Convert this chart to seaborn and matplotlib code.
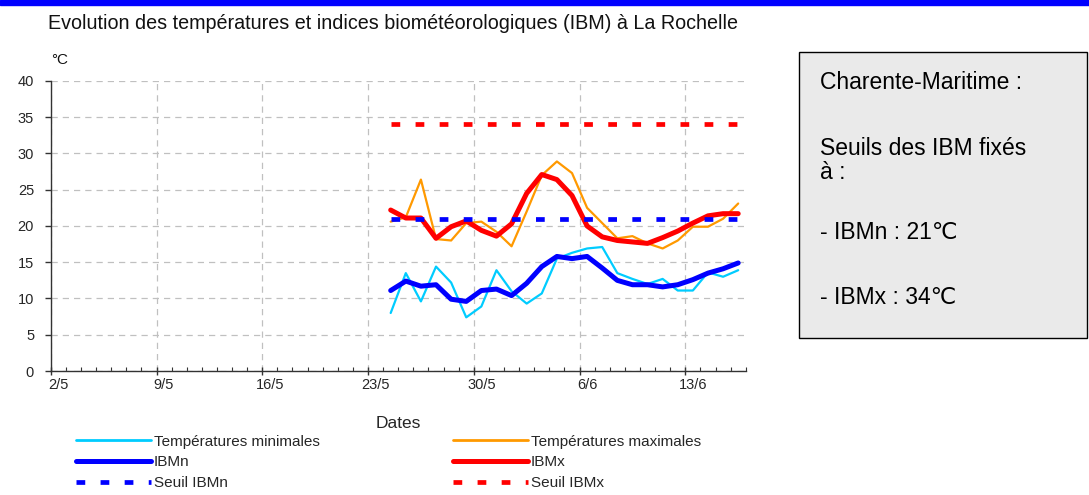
import numpy as np
import pandas as pd
import seaborn as sns
import matplotlib.pyplot as plt
import matplotlib.transforms as mtransforms
from matplotlib.lines import Line2D
from matplotlib.patches import Rectangle
from matplotlib.ticker import MultipleLocator, FixedLocator

# Days shown on the axis: 2/5 .. 16/6 (index 0 = 2/5)
AXIS_START = pd.Timestamp('2011-05-02')
N_DAYS = 46
week_labels = ['2/5', '9/5', '16/5', '23/5', '30/5', '6/6', '13/6']

dates = ['2011-05-24', '2011-05-25', '2011-05-26', '2011-05-27', '2011-05-28', '2011-05-29',
         '2011-05-30', '2011-05-31', '2011-06-01', '2011-06-02', '2011-06-03', '2011-06-04',
         '2011-06-05', '2011-06-06', '2011-06-07', '2011-06-08', '2011-06-09', '2011-06-10',
         '2011-06-11', '2011-06-12', '2011-06-13', '2011-06-14', '2011-06-15', '2011-06-16']
t_min = [8.0, 13.5, 9.6, 14.4, 12.2, 7.4, 8.9, 13.9, 11.0, 9.3, 10.7, 15.5,
         16.3, 16.9, 17.1, 13.5, 12.7, 12.0, 12.7, 11.1, 11.1, 13.6, 13.0, 13.9]
t_max = [20.6, 21.2, 26.4, 18.2, 18.0, 20.4, 20.6, 19.2, 17.2, 22.0, 27.0, 28.9,
         27.3, 22.5, 20.4, 18.3, 18.6, 17.6, 16.9, 18.0, 19.9, 19.9, 21.0, 23.1]
ibm_n = [11.1, 12.4, 11.7, 11.9, 9.9, 9.6, 11.1, 11.3, 10.4, 12.1, 14.4, 15.8,
         15.5, 15.8, 14.2, 12.5, 11.9, 11.9, 11.6, 11.9, 12.6, 13.5, 14.1, 14.9]
ibm_x = [22.2, 21.1, 21.1, 18.3, 19.9, 20.7, 19.4, 18.6, 20.3, 24.5, 27.1, 26.4,
         24.2, 20.0, 18.5, 18.0, 17.8, 17.6, 18.4, 19.3, 20.4, 21.4, 21.7, 21.7]
SEUIL_IBMN = 21
SEUIL_IBMX = 34

df = pd.DataFrame({'date': pd.to_datetime(dates), 'tmin': t_min, 'tmax': t_max,
                   'ibmn': ibm_n, 'ibmx': ibm_x})
df['day'] = (df['date'] - AXIS_START).dt.days
df['seuil_n'] = np.full(len(df), SEUIL_IBMN)
df['seuil_x'] = np.full(len(df), SEUIL_IBMX)

sns.set_theme(style='white')
plt.rcParams['font.family'] = ['Liberation Sans', 'DejaVu Sans']

fig = plt.figure(figsize=(10.89, 4.95), dpi=100)
ax = fig.add_axes([0.0466, 0.2505, 0.6382, 0.5859])

dash = (0, (1.85, 3.25))
series = [
    ('tmin', '#00CCFF', 1.6, '-', 'Températures minimales'),
    ('tmax', '#FF9900', 1.6, '-', 'Températures maximales'),
    ('ibmn', '#0000FF', 3.6, '-', 'IBMn'),
    ('ibmx', '#FF0000', 3.6, '-', 'IBMx'),
    ('seuil_n', '#0000FF', 3.4, dash, 'Seuil IBMn'),
    ('seuil_x', '#FF0000', 3.4, dash, 'Seuil IBMx'),
]
for col, color, lw, ls, lab in series:
    sns.lineplot(data=df, x='day', y=col, color=color, linewidth=lw, linestyle=ls, ax=ax)

ax.set_xlim(-0.5, N_DAYS - 0.5)
ax.set_ylim(0, 40)
ax.yaxis.set_major_locator(MultipleLocator(5))
ax.xaxis.set_major_locator(FixedLocator(np.arange(-0.5, N_DAYS, 7)))
ax.xaxis.set_minor_locator(FixedLocator(np.arange(-0.5, N_DAYS, 1)))
ax.set_xticklabels(week_labels, fontsize=10.5)
ax.tick_params(axis='y', labelsize=10.5, length=4, width=1, color='#333333', pad=8, left=True)
ax.tick_params(axis='x', which='major', direction='inout', length=6, width=1, color='#333333', pad=2, bottom=True)
ax.tick_params(axis='x', which='minor', direction='in', length=3, width=0.8, color='#333333', bottom=True)
# labels sit in the middle of the day slot
shift = mtransforms.ScaledTranslation(7.5 / 100, 0, fig.dpi_scale_trans)
for lbl in ax.get_xticklabels():
    lbl.set_transform(lbl.get_transform() + shift)

ax.grid(True, which='major', color='#C0C0C0', linestyle=(0, (5, 4)), linewidth=0.9)
for s in ['top', 'right']:
    ax.spines[s].set_visible(False)
for s in ['left', 'bottom']:
    ax.spines[s].set_color('#333333')
    ax.spines[s].set_linewidth(1)
ax.set_xlabel('Dates', fontsize=12.5, labelpad=17)
ax.set_ylabel('')

# top blue band, title and unit
fig.patches.append(Rectangle((0, 0.99), 1, 0.01, transform=fig.transFigure, color='#0000FF'))
fig.text(0.361, 0.953, 'Evolution des températures et indices biométéorologiques (IBM) à La Rochelle',
         ha='center', va='center', fontsize=14.2, color='#111111')
fig.text(0.047, 0.878, '°C', ha='left', va='center', fontsize=11, color='#111111')

# legend in two separate columns
handles = [Line2D([], [], color=c, lw=max(lw, 2.0), ls=ls) for _, c, lw, ls, _ in series]
labels = [s[4] for s in series]
leg_kw = dict(loc='upper left', frameon=False, handlelength=4.9, handletextpad=0.2,
              labelspacing=0.45, borderaxespad=0, borderpad=0, prop={'size': 11})
fig.legend([handles[0], handles[2], handles[4]], [labels[0], labels[2], labels[4]],
           bbox_to_anchor=(0.0698, 0.122), **leg_kw)
fig.legend([handles[1], handles[3], handles[5]], [labels[1], labels[3], labels[5]],
           bbox_to_anchor=(0.416, 0.122), **leg_kw)

# info box
fig.patches.append(Rectangle((0.7337, 0.317), 0.2645, 0.578, transform=fig.transFigure,
                             facecolor='#EAEAEA', edgecolor='#000000', linewidth=1))
box_lines = [('Charente-Maritime :', 0.834), ('Seuils des IBM fixés', 0.701), ('à :', 0.6525),
             ('- IBMn : 21℃', 0.531), ('- IBMx : 34℃', 0.400)]
for txt, y in box_lines:
    fig.text(0.753, y, txt, ha='left', va='center', fontsize=16.5, color='#000000')

fig.savefig('out.png', dpi=100)
